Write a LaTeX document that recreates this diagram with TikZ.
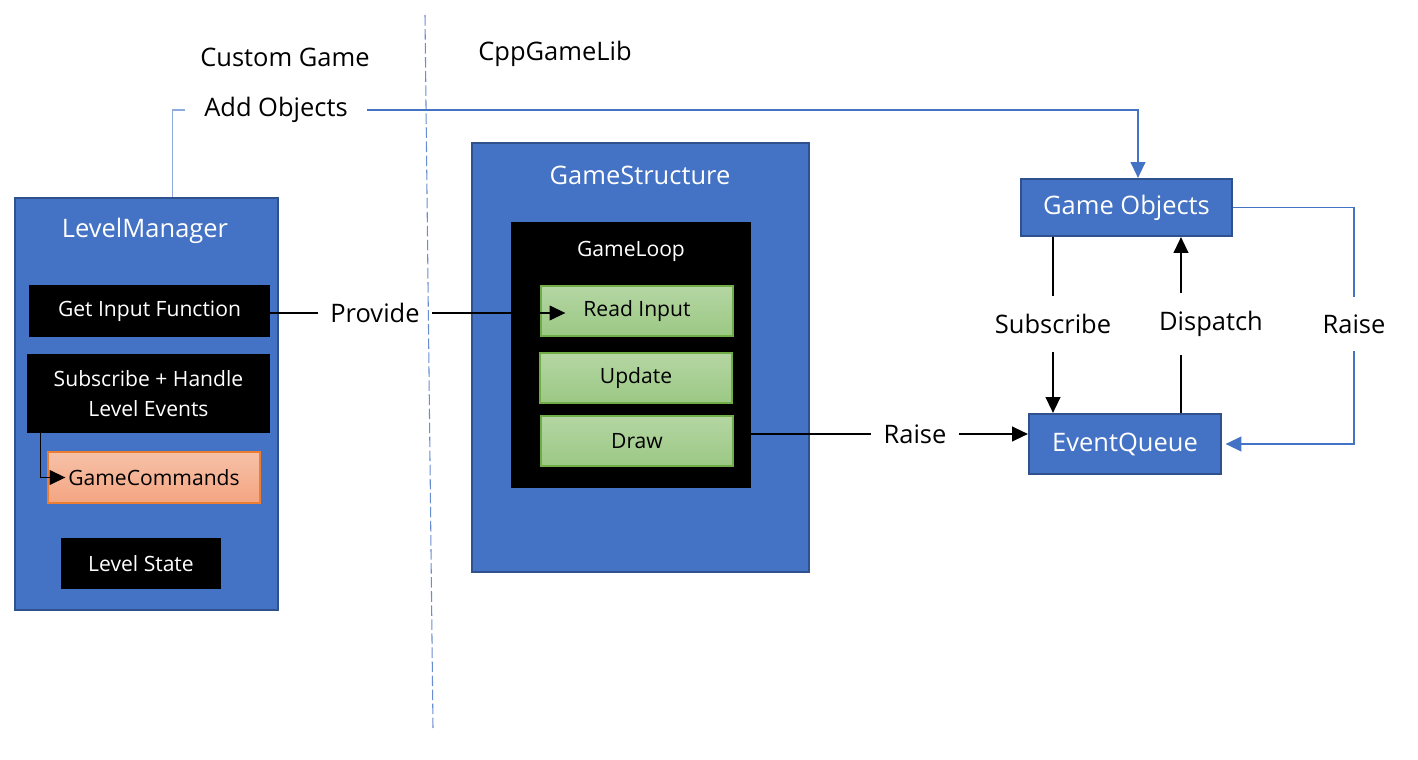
\documentclass[tikz,border=0pt]{standalone}
\usepackage{fontspec}
\setmainfont{Open Sans}
\usetikzlibrary{arrows.meta}

\definecolor{blueFill}{HTML}{4472C4}
\definecolor{blueEdge}{HTML}{2F528F}
\definecolor{blueLight}{HTML}{8FAADC}
\definecolor{greenTop}{HTML}{B5D6A3}
\definecolor{greenBot}{HTML}{9BC884}
\definecolor{greenEdge}{HTML}{70AD47}
\definecolor{salmonTop}{HTML}{F6C1A8}
\definecolor{salmonBot}{HTML}{F4A581}
\definecolor{salmonEdge}{HTML}{ED7D31}

\newcommand{\lblfont}{\fontsize{14.5}{17}\selectfont}
\newcommand{\boxfont}{\fontsize{12}{17}\selectfont}

\tikzset{
  panel/.style={draw=blueEdge, fill=blueFill, line width=1.3pt},
  blackbox/.style={fill=black, text=white, font=\boxfont, align=center},
  stagebox/.style={draw=greenEdge, top color=greenTop, bottom color=greenBot, line width=0.8pt, font=\boxfont},
  title/.style={text=white, font=\lblfont},
  lbl/.style={font=\lblfont, inner xsep=7pt, inner ysep=10pt},
  conn/.style={line width=0.6pt, -{Triangle[length=9pt,width=8.5pt]}},
  blueconn/.style={blueFill, line width=0.6pt, -{Triangle[length=9pt,width=8.5pt]}}
}

\begin{document}
\begin{tikzpicture}[x=0.02cm, y=-0.02cm]
    \useasboundingbox (0,0) rectangle (1418,760);

    % Boundary between the game and the library
    \draw[blueFill!80, line width=0.6pt, dash pattern=on 6pt off 2pt] (425,15) -- (433,728);
    \node[font=\lblfont] (custom) at (285,57) {Custom Game};
    \node[font=\lblfont] (cpplib) at (555,54) {CppGameLib};

    % LevelManager
    \node[panel, minimum width=5.26cm, minimum height=8.24cm] (levelmgr) at (146.5,404) {};
    \node[title] (lmtitle) at (145,231) {LevelManager};
    \node[blackbox, minimum width=4.82cm, minimum height=1.04cm] (getinput) at (149.5,311) {Get Input Function};
    \node[blackbox, minimum width=4.86cm, minimum height=1.58cm] (subhandle) at (148.5,393.5) {Subscribe + Handle\\Level Events};
    \node[draw=salmonEdge, top color=salmonTop, bottom color=salmonBot, line width=0.8pt, font=\boxfont,
          minimum width=4.24cm, minimum height=1.02cm] (gamecmds) at (154,477.5) {GameCommands};
    \node[blackbox, minimum width=3.2cm, minimum height=1.02cm] (levelstate) at (141,563.5) {Level State};

    % GameStructure with its loop
    \node[panel, minimum width=6.74cm, minimum height=8.58cm] (gamestruct) at (640.5,357.5) {};
    \node[title] (gstitle) at (640,175) {GameStructure};
    \node[fill=black, minimum width=4.8cm, minimum height=5.32cm] (gameloop) at (631,355) {};
    \node[title, font=\boxfont] (gltitle) at (631,251) {GameLoop};
    \node[stagebox, minimum width=3.84cm, minimum height=1cm] (readinput) at (637,311) {Read Input};
    \node[stagebox, minimum width=3.84cm, minimum height=1cm] (update) at (636,378) {Update};
    \node[stagebox, minimum width=3.84cm, minimum height=1cm] (drawbox) at (637,441) {Draw};

    % Objects and events
    \node[panel, text=white, font=\lblfont, minimum width=4.22cm, minimum height=1.14cm] (gameobj) at (1126.5,207.5) {Game Objects};
    \node[panel, text=white, font=\lblfont, minimum width=3.84cm, minimum height=1.2cm] (eventq) at (1125,444) {EventQueue};

    % Labels on the connectors
    \node[lbl, inner xsep=11pt] (addobj) at (276,110) {Add Objects};
    \node[lbl] (provide) at (375,313) {Provide};
    \node[lbl] (raisemid) at (915,434) {Raise};
    \node[lbl] (subscribe) at (1053,324) {Subscribe};
    \node[lbl] (dispatch) at (1211,324) {Dispatch};
    \node[lbl] (raiseright) at (1354,324) {Raise};
    \coordinate (dispcol) at (1181,323);

    % Connectors
    \draw[blueLight, line width=0.8pt] ([xshift=0.52cm]levelmgr.north) |- (addobj.west);
    \draw[blueconn] (addobj.east) -| ([xshift=0.23cm]gameobj.north);
    \draw[conn] ([xshift=0.28cm]subhandle.south west) |- ([xshift=0.36cm]gamecmds.west);
    \draw[line width=0.6pt] (getinput.east |- provide.west) -- (provide.west);
    \draw[conn] (provide.east) -- ([xshift=0.5cm]readinput.west |- provide.east);
    \draw[line width=0.6pt] (drawbox.east |- raisemid) -- (raisemid.west);
    \draw[conn] (raisemid.east) -- (raisemid -| eventq.west);
    \draw[line width=0.6pt] (subscribe.north |- gameobj.south) -- (subscribe.north);
    \draw[conn] (subscribe.south) -- (subscribe.south |- eventq.north);
    \draw[line width=0.6pt] (eventq.north -| dispcol) -- (dispatch.south -| dispcol);
    \draw[conn] (dispatch.north -| dispcol) -- (gameobj.south -| dispcol);
    \draw[blueFill, line width=0.6pt] (gameobj.east) -| (raiseright.north);
    \draw[blueconn] (raiseright.south) |- ([xshift=2pt]eventq.east);
\end{tikzpicture}
\end{document}
